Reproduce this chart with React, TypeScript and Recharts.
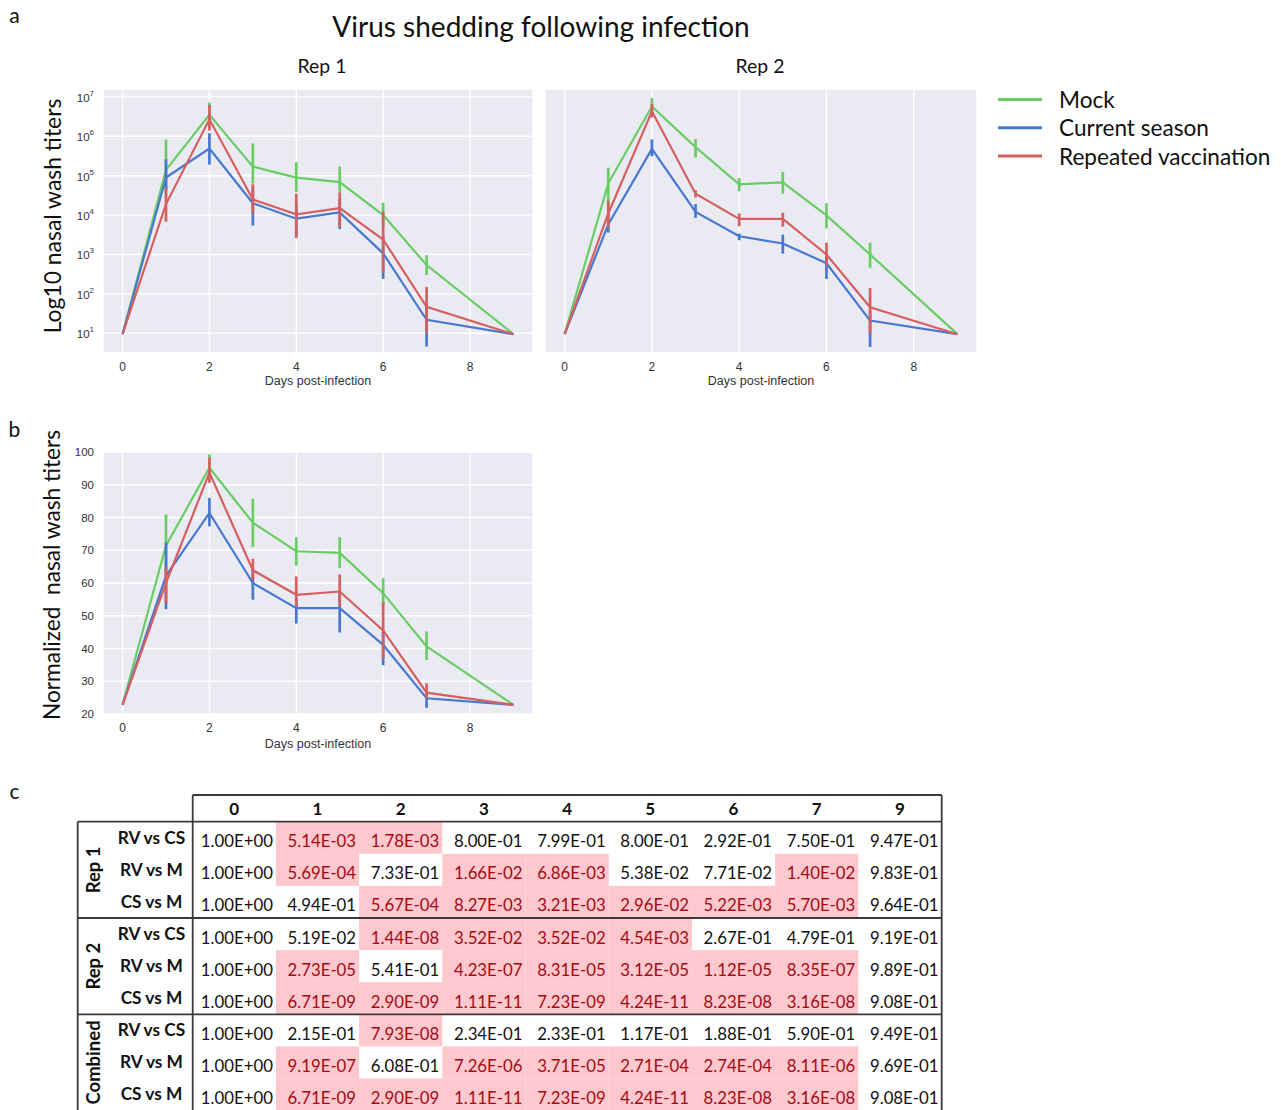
import React from 'react'
import { LineChart, Line, XAxis, YAxis, CartesianGrid, ErrorBar } from 'recharts'

// ---- chart data ----
const days = [0, 1, 2, 3, 4, 5, 6, 7, 9]
const seriesKeys = ['mock', 'current', 'repeated']
const seriesNames = ['Mock', 'Current season', 'Repeated vaccination']
const seriesColors = ['#6acc64', '#4878d0', '#d65f5f']

const logTicks = [1e1, 1e2, 1e3, 1e4, 1e5, 1e6, 1e7]
const normTicks = [20, 30, 40, 50, 60, 70, 80, 90, 100]
const dayTicks = [0, 2, 4, 6, 8]

// Rep 1 (log titers): mean, lower and upper error bar ends
const rep1Mock = [9.5, 1.4e5, 3.5e6, 1.7e5, 8.9e4, 6.9e4, 1.0e4, 5.4e2, 9.5]
const rep1MockLow = [9.5, 3e4, 1.6e6, 6.3e4, 3.9e4, 3.9e4, 5e3, 3e2, 9.5]
const rep1MockHigh = [9.5, 8.3e5, 7.2e6, 6.6e5, 2.2e5, 1.7e5, 2.05e4, 9.6e2, 9.5]
const rep1Current = [9.5, 9e4, 4.9e5, 2e4, 8.1e3, 1.17e4, 1.07e3, 22, 9.5]
const rep1CurrentLow = [9.5, 4.3e4, 1.9e5, 5.4e3, 3e3, 4.4e3, 2.4e2, 4.6, 9.5]
const rep1CurrentHigh = [9.5, 2.6e5, 1.2e6, 5e4, 1.8e4, 2.6e4, 3e3, 60, 9.5]
const rep1Repeated = [9.5, 1.9e4, 2.7e6, 2.5e4, 1.05e4, 1.5e4, 2.4e3, 47, 9.5]
const rep1RepeatedLow = [9.5, 6.8e3, 1.4e6, 1.1e4, 2.6e3, 5e3, 3.5e2, 10, 9.5]
const rep1RepeatedHigh = [9.5, 4.8e4, 6.2e6, 6.1e4, 3.5e4, 3.8e4, 1.2e4, 1.5e2, 9.5]

// Rep 2 (log titers)
const rep2Mock = [9.5, 6.4e4, 5.7e6, 5.3e5, 6e4, 6.8e4, 9.8e3, 1e3, 9.5]
const rep2MockLow = [9.5, 1.5e4, 3.7e6, 2.9e5, 4e4, 3.5e4, 4.6e3, 4.6e2, 9.5]
const rep2MockHigh = [9.5, 1.6e5, 9.4e6, 8.5e5, 8.7e4, 1.25e5, 2e4, 2e3, 9.5]
const rep2Current = [9.5, 5.8e3, 4.8e5, 1.2e4, 2.9e3, 1.9e3, 6e2, 21, 9.5]
const rep2CurrentLow = [9.5, 3.6e3, 3.1e5, 8.5e3, 2.3e3, 1.05e3, 2.4e2, 4.5, 9.5]
const rep2CurrentHigh = [9.5, 1.1e4, 8.3e5, 1.9e4, 3.4e3, 3.2e3, 9.4e2, 38, 9.5]
const rep2Repeated = [9.5, 1.1e4, 4.3e6, 3.5e4, 8e3, 8e3, 1e3, 46, 9.5]
const rep2RepeatedLow = [9.5, 4.9e3, 3e6, 2.8e4, 5.2e3, 5.1e3, 5.3e2, 9.8, 9.5]
const rep2RepeatedHigh = [9.5, 2.3e4, 6.6e6, 4.3e4, 1.1e4, 1.15e4, 2e3, 1.4e2, 9.5]

// Normalized titers
const normMock = [22.8, 71.4, 95.2, 78.4, 69.7, 69.2, 56.9, 40.6, 22.8]
const normMockLow = [22.8, 62, 91.6, 71, 65.3, 64.6, 53, 36.5, 22.8]
const normMockHigh = [22.8, 80.9, 99.3, 85.7, 74, 74, 61.5, 45.2, 22.8]
const normCurrent = [22.8, 62.2, 81.4, 60, 52.3, 52.3, 41.1, 24.8, 22.8]
const normCurrentLow = [22.8, 52, 77.3, 54.9, 47.6, 44.9, 34.9, 21.9, 22.8]
const normCurrentHigh = [22.8, 72.4, 86, 64.6, 55.4, 57, 45.2, 26.3, 22.8]
const normRepeated = [22.8, 60, 93.7, 63.9, 56.4, 57.4, 45.5, 26.5, 22.8]
const normRepeatedLow = [22.8, 53.9, 90.6, 61, 52.9, 52.9, 37, 24.8, 22.8]
const normRepeatedHigh = [22.8, 64.6, 98.3, 67.4, 62, 62.6, 54.1, 29.4, 22.8]

// ---- p-value table ----
const tableDays = ['0', '1', '2', '3', '4', '5', '6', '7', '9']
const tableGroups = ['Rep 1', 'Rep 2', 'Combined']
const comparisons = ['RV vs CS', 'RV vs M', 'CS vs M']
const rep1P = [
  ['1.00E+00', '5.14E-03', '1.78E-03', '8.00E-01', '7.99E-01', '8.00E-01', '2.92E-01', '7.50E-01', '9.47E-01'],
  ['1.00E+00', '5.69E-04', '7.33E-01', '1.66E-02', '6.86E-03', '5.38E-02', '7.71E-02', '1.40E-02', '9.83E-01'],
  ['1.00E+00', '4.94E-01', '5.67E-04', '8.27E-03', '3.21E-03', '2.96E-02', '5.22E-03', '5.70E-03', '9.64E-01'],
]
const rep2P = [
  ['1.00E+00', '5.19E-02', '1.44E-08', '3.52E-02', '3.52E-02', '4.54E-03', '2.67E-01', '4.79E-01', '9.19E-01'],
  ['1.00E+00', '2.73E-05', '5.41E-01', '4.23E-07', '8.31E-05', '3.12E-05', '1.12E-05', '8.35E-07', '9.89E-01'],
  ['1.00E+00', '6.71E-09', '2.90E-09', '1.11E-11', '7.23E-09', '4.24E-11', '8.23E-08', '3.16E-08', '9.08E-01'],
]
const combinedP = [
  ['1.00E+00', '2.15E-01', '7.93E-08', '2.34E-01', '2.33E-01', '1.17E-01', '1.88E-01', '5.90E-01', '9.49E-01'],
  ['1.00E+00', '9.19E-07', '6.08E-01', '7.26E-06', '3.71E-05', '2.71E-04', '2.74E-04', '8.11E-06', '9.69E-01'],
  ['1.00E+00', '6.71E-09', '2.90E-09', '1.11E-11', '7.23E-09', '4.24E-11', '8.23E-08', '3.16E-08', '9.08E-01'],
]
const groupP = [rep1P, rep2P, combinedP]

const tickFont = '"Liberation Sans", Arial, sans-serif'
const textFont = 'Lato, "Open Sans", sans-serif'

function buildRows(vals: number[][], lows: number[][], highs: number[][]) {
  return days.map((day, i) => {
    const row: Record<string, any> = { day }
    seriesKeys.forEach((k, s) => {
      row[k] = vals[s][i]
      row[k + 'Err'] = [vals[s][i] - lows[s][i], highs[s][i] - vals[s][i]]
    })
    return row
  })
}

const rep1Rows = buildRows(
  [rep1Mock, rep1Current, rep1Repeated],
  [rep1MockLow, rep1CurrentLow, rep1RepeatedLow],
  [rep1MockHigh, rep1CurrentHigh, rep1RepeatedHigh]
)
const rep2Rows = buildRows(
  [rep2Mock, rep2Current, rep2Repeated],
  [rep2MockLow, rep2CurrentLow, rep2RepeatedLow],
  [rep2MockHigh, rep2CurrentHigh, rep2RepeatedHigh]
)
const normRows = buildRows(
  [normMock, normCurrent, normRepeated],
  [normMockLow, normCurrentLow, normRepeatedLow],
  [normMockHigh, normCurrentHigh, normRepeatedHigh]
)

const LogTick = ({ x, y, payload }: any) => {
  const exp = Math.round(Math.log10(payload.value))
  return (
    <text x={x} y={y + 5} textAnchor="end" fontSize={11.5} fill="#333" fontFamily={tickFont}>
      10
      <tspan dy={-6} fontSize={8}>
        {exp}
      </tspan>
    </text>
  )
}

interface ShedProps {
  data: Record<string, any>[]
  log: boolean
  left: number
  top: number
  width: number
  height: number
  margin: { top: number; right: number; left: number; bottom: number }
  yWidth: number
  yLabels: boolean
  labelOffset: number
}

function ShedChart({ data, log, left, top, width, height, margin, yWidth, yLabels, labelOffset }: ShedProps) {
  return (
    <div style={{ position: 'absolute', left, top, width, height }}>
      <LineChart width={width} height={height} data={data} margin={margin}>
        <CartesianGrid fill="#eaeaf2" fillOpacity={1} stroke="#ffffff" strokeWidth={1.4} />
        <XAxis
          dataKey="day"
          type="number"
          domain={[-0.45, 9.45]}
          ticks={dayTicks}
          interval={0}
          allowDataOverflow
          tickLine={false}
          axisLine={false}
          tickSize={0}
          tickMargin={9}
          height={40}
          tick={{ fontSize: 12, fill: '#333', fontFamily: tickFont }}
          label={{
            value: 'Days post-infection',
            position: 'insideBottom',
            offset: labelOffset,
            fontSize: 12.5,
            fill: '#333',
            fontFamily: tickFont,
          }}
        />
        {log ? (
          <YAxis
            type="number"
            scale="log"
            domain={[Math.pow(10, 0.5), Math.pow(10, 7.2)]}
            ticks={logTicks}
            interval={0}
            allowDataOverflow
            width={yWidth}
            tickLine={false}
            axisLine={false}
            tickSize={0}
            tickMargin={9}
            tick={yLabels ? <LogTick /> : false}
          />
        ) : (
          <YAxis
            type="number"
            domain={[20, 100]}
            ticks={normTicks}
            interval={0}
            allowDataOverflow
            width={yWidth}
            tickLine={false}
            axisLine={false}
            tickSize={0}
            tickMargin={9}
            tick={{ fontSize: 11.5, fill: '#333', fontFamily: tickFont }}
          />
        )}
        {seriesKeys.map((k, s) => (
          <Line
            key={k}
            type="linear"
            dataKey={k}
            name={seriesNames[s]}
            stroke={seriesColors[s]}
            strokeWidth={2.2}
            dot={false}
            activeDot={false}
            isAnimationActive={false}
          >
            <ErrorBar
              dataKey={k + 'Err'}
              direction="y"
              width={0}
              stroke={seriesColors[s]}
              strokeWidth={2.7}
              isAnimationActive={false}
            />
          </Line>
        ))}
      </LineChart>
    </div>
  )
}

// table layout
const tLeft = 77.7
const tRight = 941.7
const colLeft = 192.7
const colW = 83.2
const headTop = 795
const rowTop = 821.7
const rowH = 32.1
const lineColor = '#3a3a3a'

function PTable() {
  const cells: React.ReactNode[] = []
  groupP.forEach((rows, g) => {
    rows.forEach((vals, c) => {
      const r = g * 3 + c
      const y0 = rowTop + r * rowH
      vals.forEach((v, d) => {
        const x0 = colLeft + d * colW
        const sig = parseFloat(v) < 0.05
        if (sig) {
          cells.push(<rect key={`bg-${r}-${d}`} x={x0} y={y0} width={colW} height={rowH} fill="#ffc7ce" />)
        }
        cells.push(
          <text
            key={`t-${r}-${d}`}
            x={x0 + colW - 3}
            y={y0 + 25.5}
            textAnchor="end"
            fontSize={16.8}
            fontFamily={textFont}
            fill={sig ? '#a50a12' : '#111'}
          >
            {v}
          </text>
        )
      })
      cells.push(
        <text
          key={`c-${r}`}
          x={151.5}
          y={y0 + 21.8}
          textAnchor="middle"
          fontSize={17.3}
          fontWeight="bold"
          fontFamily={textFont}
          fill="#111"
        >
          {comparisons[c]}
        </text>
      )
    })
    const gy = rowTop + g * 3 * rowH + 1.5 * rowH
    cells.push(
      <text
        key={`g-${g}`}
        x={0}
        y={0}
        transform={`translate(99.5, ${gy}) rotate(-90)`}
        textAnchor="middle"
        fontSize={18.5}
        fontWeight="bold"
        fontFamily={textFont}
        fill="#111"
      >
        {tableGroups[g]}
      </text>
    )
  })
  const bottom = rowTop + 9 * rowH
  return (
    <g>
      {cells}
      {tableDays.map((d, i) => (
        <text
          key={`h-${d}`}
          x={colLeft + i * colW + colW / 2}
          y={815}
          textAnchor="middle"
          fontSize={17}
          fontWeight="bold"
          fontFamily={textFont}
          fill="#111"
        >
          {d}
        </text>
      ))}
      <line x1={colLeft} y1={headTop} x2={tRight} y2={headTop} stroke={lineColor} strokeWidth={1.8} />
      {[0, 3, 6].map((k) => (
        <line
          key={`hl-${k}`}
          x1={tLeft}
          y1={rowTop + k * rowH}
          x2={tRight}
          y2={rowTop + k * rowH}
          stroke={lineColor}
          strokeWidth={1.8}
        />
      ))}
      <line x1={colLeft} y1={headTop} x2={colLeft} y2={bottom} stroke={lineColor} strokeWidth={1.8} />
      <line x1={tRight} y1={headTop} x2={tRight} y2={bottom} stroke={lineColor} strokeWidth={1.8} />
      <line x1={tLeft} y1={rowTop} x2={tLeft} y2={bottom} stroke={lineColor} strokeWidth={1.8} />
    </g>
  )
}

export default function App() {
  return (
    <div style={{ position: 'absolute', left: 0, top: 0, width: 1281, height: 1110, background: '#fff', overflow: 'hidden' }}>
      <ShedChart
        data={rep1Rows}
        log
        left={40}
        top={80}
        width={500}
        height={320}
        margin={{ top: 9, right: 7, left: 0, bottom: 7 }}
        yWidth={63}
        yLabels
        labelOffset={8}
      />
      <ShedChart
        data={rep2Rows}
        log
        left={540}
        top={80}
        width={445}
        height={320}
        margin={{ top: 9, right: 8, left: 4, bottom: 7 }}
        yWidth={1}
        yLabels={false}
        labelOffset={8}
      />
      <ShedChart
        data={normRows}
        log={false}
        left={40}
        top={440}
        width={500}
        height={320}
        margin={{ top: 12, right: 7, left: 0, bottom: 6 }}
        yWidth={63}
        yLabels
        labelOffset={6}
      />
      <svg
        width={1281}
        height={1110}
        style={{ position: 'absolute', left: 0, top: 0, pointerEvents: 'none' }}
        fontFamily={textFont}
      >
        <text x={14.5} y={23} textAnchor="middle" fontSize={21} fill="#111">a</text>
        <text x={14.5} y={437} textAnchor="middle" fontSize={21} fill="#111">b</text>
        <text x={14.5} y={799} textAnchor="middle" fontSize={21} fill="#111">c</text>
        <text x={541} y={37} textAnchor="middle" fontSize={28} fill="#111">
          Virus shedding following infection
        </text>
        <text x={322} y={73} textAnchor="middle" fontSize={19.4} fill="#111">Rep 1</text>
        <text x={760} y={73} textAnchor="middle" fontSize={19.4} fill="#111">Rep 2</text>
        <text
          x={0}
          y={0}
          transform="translate(61, 216) rotate(-90)"
          textAnchor="middle"
          fontSize={22.9}
          fill="#111"
        >
          Log10 nasal wash titers
        </text>
        <text
          x={0}
          y={0}
          transform="translate(60, 575) rotate(-90)"
          textAnchor="middle"
          fontSize={22.7}
          fill="#111"
          style={{ whiteSpace: 'pre' }}
        >
          {'Normalized  nasal wash titers'}
        </text>
        {seriesNames.map((name, i) => (
          <g key={name}>
            <line x1={998} x2={1042} y1={99.5 + i * 28.3} y2={99.5 + i * 28.3} stroke={seriesColors[i]} strokeWidth={3} />
            <text x={1059} y={108} fontSize={22.6} fill="#111" transform={`translate(0, ${i * 28.3})`}>
              {name}
            </text>
          </g>
        ))}
        <PTable />
      </svg>
    </div>
  )
}
